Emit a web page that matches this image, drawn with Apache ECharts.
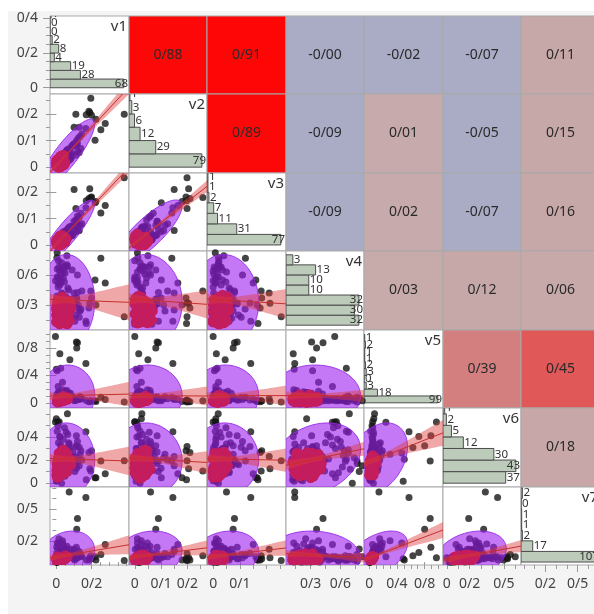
<!DOCTYPE html>
<html><head><meta charset="utf-8">
<script src="https://cdn.jsdelivr.net/npm/echarts@6/dist/echarts.min.js"></script>
<style>
html,body{margin:0;padding:0;background:#fff;width:594px;height:614px;overflow:hidden;}
#wrap{position:absolute;left:0;top:0;width:594px;height:614px;overflow:hidden;}
#bg{position:absolute;left:8px;top:11px;width:586px;height:603px;background:#f4f4f4;}
#c{position:absolute;left:0;top:0;width:600px;height:614px;}
</style>
</head><body><div id="wrap"><div id="bg"></div><div id="c"></div></div>
<script>
// ---------------- data ----------------
const varNames = ['v1','v2','v3','v4','v5','v6','v7'];
const v1 = [.010,.020,.005,.035,.015,.045,.060,.025,.000,.030,
 .050,.070,.012,.040,.085,.008,.022,.055,.003,.095,
 .018,.033,.065,.028,.042,.075,.010,.038,.052,.006,
 .010,.030,.050,.015,.070,.005,.090,.025,.040,.060,
 .110,.125,.105,.140,.115,.130,.145,.120,.135,.100,
 .020,.045,.008,.060,.030,.012,.080,.035,.002,.055,
 .015,.048,.025,.068,.004,.038,.058,.020,.088,.012,
 .032,.007,.078,.044,.016,.062,.027,.050,.001,.036,
 .020,.005,.040,.012,.065,.028,.003,.046,.018,.056,
 .024,.072,.009,.041,.083,
 .386,.196,.190,.200,.185,.111,.278,.253,.220,.101,
 .170,.130,.168,.073,.120,.116,-.005,.114,.020,.077,
 .000,.025,.010,.005,.063,.000,.016,.010,.040,.030,
 .060,.225,.005,.015,.035];
const v2 = [.030,.002,.022,.008,.028,.012,.062,.040,.015,.000,
 .018,.068,.030,.045,.035,.020,.000,.052,.018,.085,
 .000,.040,.030,.008,.050,.065,.025,.010,.048,.016,
 .020,.005,.055,.032,.025,.000,.080,.042,.010,.060,
 .045,.110,.090,.070,.100,.055,.125,.060,.115,.085,
 .035,.010,.002,.058,.028,.025,.030,.048,.012,.020,
 .000,.045,.038,.025,.015,.010,.062,.003,.050,.028,
 .040,.018,.040,.015,.025,.065,.002,.045,.008,.030,
 .008,.020,.045,.000,.030,.038,.012,.012,.032,.055,
 .028,.030,.000,.050,.075,
 .199,.259,.205,.195,.210,.199,.164,.141,.101,.150,
 .197,.150,.145,.060,.090,.080,.000,.085,.015,.050,
 .005,.020,.008,.010,.027,.025,.000,.010,.040,.020,
 .050,.180,.010,.010,.025];
const v3 = [.001,.030,.018,.036,.000,.048,.018,.028,.012,.040,
 .048,.025,.002,.012,.070,.022,.035,.015,.000,.040,
 .025,.005,.060,.035,.015,.040,.020,.045,.018,.000,
 .000,.035,.015,.004,.065,.020,.035,.008,.050,.020,
 .095,.055,.060,.120,.050,.105,.080,.110,.075,.090,
 .005,.042,.020,.022,.002,.010,.068,.010,.015,.055,
 .026,.012,.000,.060,.010,.040,.020,.032,.070,.000,
 .005,.000,.070,.045,.030,.020,.035,.010,.016,.042,
 .030,.008,.010,.022,.060,.002,.020,.048,.000,.025,
 .000,.065,.014,.018,.035,
 .255,.180,.213,.182,.176,.138,.150,.121,.160,.210,
 .168,.055,.141,.050,.080,.075,.000,.090,.012,.045,
 .010,.015,.010,.005,.019,.010,.008,.012,.030,.020,
 .040,.165,.008,.012,.020];
const v4 = [.15,.22,.30,.18,.25,.12,.33,.28,.20,.38,
 .16,.24,.35,.14,.27,.19,.31,.21,.13,.36,
 .11,.29,.17,.40,.23,.15,.26,.34,.12,.22,
 .48,.55,.62,.68,.45,.58,.65,.52,.63,.70,
 .20,.30,.14,.26,.37,.18,.44,.60,.24,.32,
 .19,.27,.35,.16,.42,.23,.31,.13,.29,.38,
 .21,.33,.15,.25,.39,.12,.28,.36,.17,.30,
 .24,.14,.34,.20,.27,.11,.32,.18,.26,.41,
 .50,.66,.57,.74,.47,.61,.77,.53,.64,.68,
 .13,.22,.31,.17,.28,
 .183,.440,.317,.370,.270,.320,.520,.767,.550,.420,
 .117,.250,.140,.140,.425,.360,.543,.310,.125,.320,
 .135,.660,.520,.320,.690,.260,.560,.575,.680,.720,
 .790,.300,.820,.250,.380];
const v5 = [.02,.03,.01,.04,.02,.05,.06,.03,.01,.02,
 .07,.05,.02,.03,.08,.01,.04,.06,.00,.09,
 .02,.03,.05,.04,.05,.07,.01,.03,.06,.02,
 .03,.05,.04,.02,.06,.03,.08,.04,.05,.06,
 .04,.06,.03,.07,.05,.08,.06,.05,.09,.04,
 .12,.15,.11,.18,.13,.16,.14,.19,.12,.17,
 .02,.04,.03,.05,.01,.03,.06,.02,.07,.02,
 .04,.01,.06,.05,.02,.06,.03,.04,.00,.03,
 .04,.02,.05,.03,.06,.04,.01,.05,.03,.06,
 .03,.06,.02,.04,.07,
 .010,.030,.020,.025,.015,.040,.047,.080,.030,.060,
 .035,.050,.574,.140,.880,.800,.970,.890,.716,.630,
 .490,.506,.240,.470,.076,.066,.050,.040,.100,.060,
 .070,.020,.030,.150,.300];
const v6 = [.08,.12,.05,.15,.10,.18,.22,.07,.03,.14,
 .25,.11,.09,.19,.16,.06,.13,.20,.04,.27,
 .17,.08,.23,.12,.15,.29,.10,.18,.07,.02,
 .21,.30,.14,.26,.35,.09,.19,.33,.24,.12,
 .16,.22,.10,.28,.13,.31,.20,.36,.25,.17,
 .22,.30,.18,.26,.14,.35,.20,.28,.11,.24,
 .13,.06,.21,.09,.16,.27,.12,.19,.15,.05,
 .23,.11,.18,.08,.14,.21,.10,.25,.07,.17,
 .40,.45,.38,.22,.42,.31,.17,.48,.28,.44,
 .12,.19,.06,.14,.23,
 .195,.105,.125,.280,.265,.317,.081,.192,.046,.230,
 .030,.150,.445,.338,.192,.323,.530,.410,.404,.308,
 .017,.207,.526,.260,.600,.556,.532,.497,.290,.000,
 .100,.046,.150,.200,.250];
const v7 = [.01,.02,.00,.03,.01,.04,.05,.02,.00,.03,
 .06,.04,.01,.02,.07,.01,.03,.05,.00,.08,
 .02,.02,.06,.03,.04,.09,.01,.03,.05,.00,
 .02,.04,.03,.02,.05,.01,.06,.03,.04,.05,
 .03,.05,.02,.06,.04,.07,.05,.04,.08,.03,
 .11,.13,.12,.15,.10,.17,.12,.18,.14,.11,
 .01,.03,.02,.04,.00,.02,.05,.01,.06,.01,
 .03,.01,.05,.04,.02,.05,.02,.03,.00,.02,
 .03,.02,.04,.02,.05,.03,.01,.04,.02,.05,
 .02,.05,.01,.03,.06,
 .015,.060,.040,.030,.020,.080,.165,.070,.050,.120,
 .020,.100,.610,.660,.410,.310,.040,.140,.090,.060,
 .030,.020,.050,.180,.050,.070,.030,.020,.150,.040,
 .124,.020,.050,.220,.200];

// histogram counts per variable (bottom bin first)
const hist1 = [68,28,19,4,8,2,0,0,1];
const hist2 = [79,29,12,6,3,1];
const hist3 = [77,31,11,7,2,1,1];
const hist4 = [32,30,32,10,10,13,3];
const hist5 = [99,18,3,0,3,2,1,1,2,1];
const hist6 = [37,43,30,12,5,2,1];
const hist7 = [107,17,2,1,1,0,2];
const histStart = [0,0,0,0.1,0,0,0];
const histWidth = [0.05,0.05,0.04,0.1,0.1,0.1,0.1];

// correlation labels of the upper triangle, row by row
const corrText = ['0/88','0/91','-0/00','-0/02','-0/07','0/11',
                  '0/89','-0/09','0/01','-0/05','0/15',
                  '-0/09','0/02','-0/07','0/16',
                  '0/03','0/12','0/06',
                  '0/39','0/45',
                  '0/18'];

// axis scales and tick labels
const axisMin = [-0.036,-0.022,-0.023,0.052,-0.076,-0.033,-0.028];
const axisMax = [0.413,0.275,0.273,0.838,1.065,0.650,0.708];
const yTickLabels = [[0,0.2,0.4],[0,0.1,0.2],[0,0.1,0.2],[0.3,0.6],[0,0.4,0.8],[0,0.2,0.4],[0.2,0.5]];
const xTickLabels = [[0,0.2],[0,0.1,0.2],[0,0.1],[0.3,0.6],[0,0.4,0.8],[0,0.2,0.5],[0.2,0.5]];
const minorStep = [0.05,0.05,0.05,0.15,0.1,0.1,0.1];

// ---------------- chart ----------------
const V = [v1,v2,v3,v4,v5,v6,v7];
const H = [hist1,hist2,hist3,hist4,hist5,hist6,hist7];
V.forEach((a,i)=>{ if(a.length!==v1.length) throw new Error('length mismatch '+varNames[i]+' '+a.length); });
const FONT = '"Noto Sans","Open Sans",sans-serif';
const fmt = v => String(v).replace('.', '/');

const X0 = 50, Y0 = 15.5, CELL = 78.5;
const edgeX = j => Math.round(X0 + j*CELL);
const edgeY = i => Math.round(Y0 + i*CELL);

function corrColor(txt){
  if (txt.charAt(0)==='-') return '#aaacc6';
  const r = parseFloat(txt.replace('/','.'));
  const stops=[[0,[199,170,171]],[0.2,[199,167,167]],[0.39,[212,127,127]],[0.45,[224,88,88]],[0.8,[252,14,14]],[1,[255,0,0]]];
  for (let s=1;s<stops.length;s++){
    if (r<=stops[s][0]){
      const a=stops[s-1], b=stops[s], t=(r-a[0])/(b[0]-a[0]);
      const c=a[1].map((v,q)=>Math.round(v+(b[1][q]-v)*t));
      return 'rgb('+c.join(',')+')';
    }
  }
  return 'rgb(255,0,0)';
}
function upperIndex(i,j){ let idx=0; for(let r=0;r<i;r++) idx += 6-r; return idx + (j-i-1); }
function minorTicks(v){
  const out=[]; const s=minorStep[v];
  for (let t=Math.ceil(axisMin[v]/s)*s; t<=axisMax[v]+1e-9; t+=s) out.push(Math.round(t*1000)/1000);
  return out;
}
function stats(xs, ys){
  const n=xs.length; let mx=0,my=0;
  for(let q=0;q<n;q++){mx+=xs[q];my+=ys[q];}
  mx/=n; my/=n;
  let sxx=0,syy=0,sxy=0;
  for(let q=0;q<n;q++){const dx=xs[q]-mx, dy=ys[q]-my; sxx+=dx*dx; syy+=dy*dy; sxy+=dx*dy;}
  return {n,mx,my,sxx,syy,sxy};
}
const hiddenAxis = () => ({axisLine:{show:false}, axisTick:{show:false}, axisLabel:{show:false}, splitLine:{show:false}});
const tickColor = '#9a9a9a';

const grids=[], xAxes=[], yAxes=[], series=[];
for (let i=0;i<7;i++) for (let j=0;j<7;j++){
  const k=i*7+j;
  const L=edgeX(j), T=edgeY(i);
  const upper = j>i, diag = i===j;
  grids.push({left:L, top:T, width:edgeX(j+1)-L, height:edgeY(i+1)-T, show:true,
    backgroundColor: upper ? corrColor(corrText[upperIndex(i,j)]) : '#ffffff',
    borderColor:'#a9a9a9', borderWidth:1});
  const maxCount = Math.max.apply(null, H[i]);
  const xa = Object.assign({gridIndex:k, type:'value'}, hiddenAxis(), {
    min: diag ? 0 : (upper ? -1 : axisMin[j]),
    max: diag ? maxCount*1.07 : (upper ? 1 : axisMax[j])});
  const ya = Object.assign({gridIndex:k, type:'value'}, hiddenAxis(), {
    min: upper ? -1 : axisMin[i], max: upper ? 1 : axisMax[i]});
  if (i===6 && !diag){
    xa.axisTick = {show:true, customValues:xTickLabels[j], length:7, lineStyle:{color:tickColor}};
    xa.axisLabel = {show:true, customValues:xTickLabels[j], formatter:fmt, fontSize:14, fontFamily:FONT, color:'#444', margin:12};
  }
  if (j===0){
    ya.axisTick = {show:true, customValues:yTickLabels[i], length:7, lineStyle:{color:tickColor}};
    ya.axisLabel = {show:true, customValues:yTickLabels[i], formatter:fmt, fontSize:14, fontFamily:FONT, color:'#444', margin:12};
  }
  xAxes.push(xa); yAxes.push(ya);

  if (upper){
    const txt = corrText[upperIndex(i,j)];
    series.push({type:'custom', xAxisIndex:k, yAxisIndex:k, silent:true, data:[[0,0]],
      renderItem:(p,api)=>{const cs=p.coordSys; return {type:'text', style:{text:txt, x:cs.x+cs.width/2, y:cs.y+cs.height/2,
        align:'center', verticalAlign:'middle', font:'14px '+FONT, fill:'#2a2a2a'}};}});
  } else if (diag){
    const counts=H[i], st=histStart[i], w=histWidth[i];
    series.push({type:'custom', xAxisIndex:k, yAxisIndex:k, silent:true, clip:true,
      data: counts.map((c,b)=>[c, st+b*w, st+(b+1)*w]),
      renderItem:(p,api)=>{
        const c=api.value(0), lo=api.value(1), hi=api.value(2);
        const p0=api.coord([0,lo]), p1=api.coord([c,hi]); const cs=p.coordSys;
        const txt=String(c), tw=txt.length*6.6;
        const tx=Math.min(p1[0]+1, cs.x+cs.width-tw-1);
        return {type:'group', children:[
          {type:'rect', shape:{x:p0[0], y:p1[1], width:p1[0]-p0[0], height:p0[1]-p1[1]}, style:{fill:'#bccbba', stroke:'#4d4d4d', lineWidth:1}},
          {type:'text', style:{text:txt, x:tx, y:(p0[1]+p1[1])/2, align:'left', verticalAlign:'middle', font:'11.5px '+FONT, fill:'#333'}}
        ]};
      }});
    const name=varNames[i];
    series.push({type:'custom', xAxisIndex:k, yAxisIndex:k, silent:true, data:[[0,0]],
      renderItem:(p,api)=>{const cs=p.coordSys; return {type:'text', style:{text:name, x:cs.x+cs.width-2, y:cs.y+3,
        align:'right', verticalAlign:'top', font:'15px '+FONT, fill:'#333'}};}});
  } else {
    const xs=V[j], ys=V[i]; const S=stats(xs,ys);
    const xmin=axisMin[j], xmax=axisMax[j];
    series.push({type:'scatter', xAxisIndex:k, yAxisIndex:k, silent:true, z:2, symbolSize:7,
      itemStyle:{color:'#161616'}, data: xs.map((x,q)=>[x,ys[q]])});
    series.push({type:'custom', xAxisIndex:k, yAxisIndex:k, silent:true, clip:true, z:3, data:[[S.mx,S.my]],
      renderItem:(p,api)=>{
        const kk=2.4477, sx=Math.sqrt(S.sxx/(S.n-1)), cxy=S.sxy/(S.n-1), sy2=S.syy/(S.n-1);
        const a=cxy/sx, b=Math.sqrt(Math.max(sy2-a*a,0)); const pts=[];
        for(let t=0;t<90;t++){const th=t/90*2*Math.PI, c=Math.cos(th), s=Math.sin(th);
          pts.push(api.coord([S.mx+kk*sx*c, S.my+kk*(a*c+b*s)]));}
        return {type:'polygon', shape:{points:pts}, style:{fill:'rgba(158,30,240,0.6)', stroke:'rgba(150,40,230,0.9)', lineWidth:1}};
      }});
    // dense core: points with the highest local density
    series.push({type:'custom', xAxisIndex:k, yAxisIndex:k, silent:true, clip:true, z:4, data:[[S.mx,S.my]],
      renderItem:(p,api)=>{
        const P=xs.map((x,q)=>api.coord([x,ys[q]])); const h2=2*5*5;
        const dens=P.map(a=>{let d=0; for(const b of P){const dx=a[0]-b[0], dy=a[1]-b[1]; d+=Math.exp(-(dx*dx+dy*dy)/h2);} return d;});
        const sorted=dens.slice().sort((a,b)=>b-a); const cut=sorted[Math.floor(sorted.length*0.5)];
        const kids=[];
        P.forEach((pt,q)=>{ if(dens[q]>=cut) kids.push({type:'circle', shape:{cx:pt[0], cy:pt[1], r:5.2}, style:{fill:'#c41d5e'}}); });
        return {type:'group', children:kids};
      }});
    series.push({type:'custom', xAxisIndex:k, yAxisIndex:k, silent:true, clip:true, z:5, data:[[S.mx,S.my]],
      renderItem:(p,api)=>{
        const b=S.sxy/S.sxx, a=S.my-b*S.mx, s=Math.sqrt(Math.max(S.syy-b*S.sxy,0)/(S.n-2)), t=1.979;
        const up=[], lo=[];
        for(let q=0;q<=40;q++){const x=xmin+(xmax-xmin)*q/40, yh=a+b*x, se=s*Math.sqrt(1/S.n+(x-S.mx)*(x-S.mx)/S.sxx);
          up.push(api.coord([x,yh+t*se])); lo.push(api.coord([x,yh-t*se]));}
        const l1=api.coord([xmin,a+b*xmin]), l2=api.coord([xmax,a+b*xmax]);
        return {type:'group', children:[
          {type:'polygon', shape:{points:up.concat(lo.reverse())}, style:{fill:'rgba(222,60,60,0.45)'}},
          {type:'line', shape:{x1:l1[0],y1:l1[1],x2:l2[0],y2:l2[1]}, style:{stroke:'#c62f2f', lineWidth:1}}
        ]};
      }});
  }
}
// minor tick axes on the left column and bottom row
for (let i=0;i<7;i++){
  yAxes.push(Object.assign({gridIndex:i*7, type:'value', position:'left', min:axisMin[i], max:axisMax[i]}, hiddenAxis(),
    {axisTick:{show:true, customValues:minorTicks(i), length:4, lineStyle:{color:tickColor}}}));
}
for (let j=0;j<7;j++){
  xAxes.push(Object.assign({gridIndex:42+j, type:'value', position:'bottom', min:axisMin[j], max:axisMax[j]}, hiddenAxis(),
    {axisTick:{show:true, customValues:minorTicks(j), length:4, lineStyle:{color:tickColor}}}));
}
// v7 scale under the last diagonal cell
xAxes.push(Object.assign({gridIndex:48, type:'value', position:'bottom', min:axisMin[6], max:axisMax[6]}, hiddenAxis(), {
  axisTick:{show:true, customValues:xTickLabels[6], length:7, lineStyle:{color:tickColor}},
  axisLabel:{show:true, customValues:xTickLabels[6], formatter:fmt, fontSize:14, fontFamily:FONT, color:'#444', margin:12}}));

const chart = echarts.init(document.getElementById('c'), null, {renderer:'canvas', width:600, height:614});
chart.setOption({backgroundColor:'rgba(0,0,0,0)', animation:false, grid:grids, xAxis:xAxes, yAxis:yAxes, series:series});
</script>
</body></html>
